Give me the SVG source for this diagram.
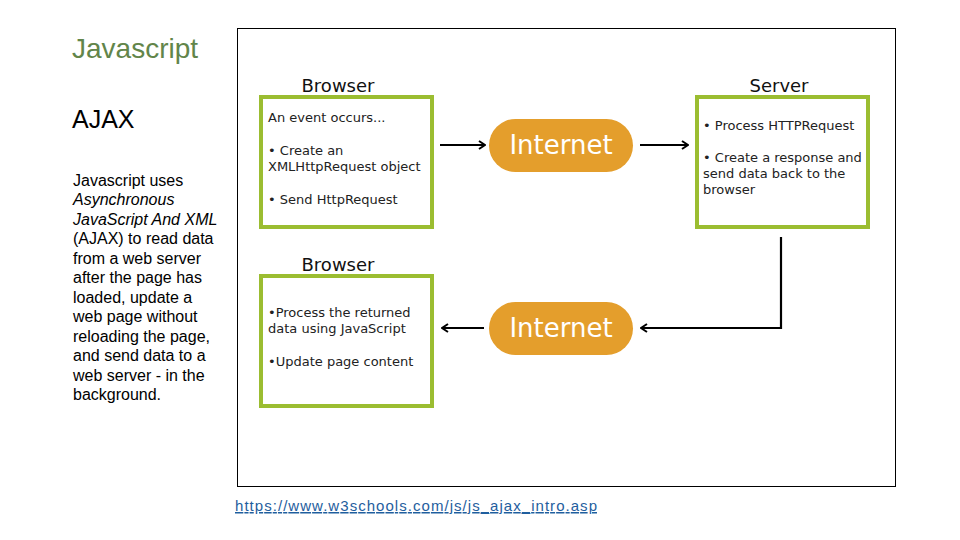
<svg xmlns="http://www.w3.org/2000/svg" width="960" height="540" viewBox="0 0 960 540">
<style>
.side{font-family:"Liberation Sans",Arial,sans-serif;fill:#000}
.dg{font-family:"DejaVu Sans",Verdana,sans-serif;fill:#222}
.hd{font-family:"DejaVu Sans",Verdana,sans-serif;font-size:18px;fill:#111;text-anchor:middle}
.box{fill:#fff;stroke:#9BBD31;stroke-width:4}
.pill{fill:#E49E2C}
.inet{font-family:"DejaVu Sans",Verdana,sans-serif;font-size:26px;fill:#fff;text-anchor:middle}
.con{fill:none;stroke:#000;stroke-width:2.2}
</style>
<defs>
<marker id="ah" viewBox="0 0 10 10" refX="9" refY="5" markerWidth="10" markerHeight="10" orient="auto" markerUnits="userSpaceOnUse">
<polyline points="3,1 9,5 3,9" fill="none" stroke="#000" stroke-width="2"/>
</marker>
</defs>
<rect width="960" height="540" fill="#fff"/>
<text x="72" y="58" font-family="Liberation Sans,Arial,sans-serif" font-size="28" fill="#62854A">Javascript</text>
<text x="72" y="128" class="side" font-size="25">AJAX</text>
<g class="side" font-size="16">
<text x="73" y="186">Javascript uses</text>
<text x="73" y="205" font-style="italic">Asynchronous</text>
<text x="73" y="225" font-style="italic">JavaScript And XML</text>
<text x="73" y="244">(AJAX) to read data</text>
<text x="73" y="264">from a web server</text>
<text x="73" y="283">after the page has</text>
<text x="73" y="303">loaded, update a</text>
<text x="73" y="322">web page without</text>
<text x="73" y="342">reloading the page,</text>
<text x="73" y="361">and send data to a</text>
<text x="73" y="381">web server - in the</text>
<text x="73" y="400">background.</text>
</g>
<rect x="237.5" y="28.5" width="658" height="458" fill="#fff" stroke="#000" stroke-width="1"/>
<g id="browser1">
<text x="338" y="92" class="hd">Browser</text>
<rect x="261" y="97" width="171" height="130" class="box"/>
<text class="dg" font-size="13"><tspan x="268" y="122">An event occurs...</tspan><tspan x="268" y="155">• Create an</tspan><tspan x="268" y="171">XMLHttpRequest object</tspan><tspan x="268" y="204">• Send HttpRequest</tspan></text>
</g>
<g id="internet1">
<rect x="489" y="119" width="144" height="53" rx="26.5" class="pill"/>
<text x="561" y="154" class="inet">Internet</text>
</g>
<g id="server">
<text x="779" y="92" class="hd">Server</text>
<rect x="697" y="97" width="171" height="130" class="box"/>
<text class="dg" font-size="13"><tspan x="703" y="130">• Process HTTPRequest</tspan><tspan x="703" y="162">• Create a response and</tspan><tspan x="703" y="178">send data back to the</tspan><tspan x="703" y="194">browser</tspan></text>
</g>
<g id="internet2">
<rect x="489" y="302" width="144" height="53" rx="26.5" class="pill"/>
<text x="561" y="337" class="inet">Internet</text>
</g>
<g id="browser2">
<text x="338" y="271" class="hd">Browser</text>
<rect x="261" y="276" width="171" height="130" class="box"/>
<text class="dg" font-size="13"><tspan x="268" y="317">•Process the returned</tspan><tspan x="268" y="333">data using JavaScript</tspan><tspan x="268" y="366">•Update page content</tspan></text>
</g>
<g id="connectors">
<line x1="440" y1="145" x2="485" y2="145" class="con" marker-end="url(#ah)"/>
<line x1="640" y1="145" x2="688" y2="145" class="con" marker-end="url(#ah)"/>
<polyline points="781,237 781,328 641,328" class="con" marker-end="url(#ah)"/>
<line x1="484" y1="328" x2="442" y2="328" class="con" marker-end="url(#ah)"/>
</g>
<text x="235" y="511" font-family="Liberation Sans,Arial,sans-serif" font-size="15" fill="#1F5E9E" text-decoration="underline" textLength="362" lengthAdjust="spacing">https://www.w3schools.com/js/js_ajax_intro.asp</text>
</svg>
